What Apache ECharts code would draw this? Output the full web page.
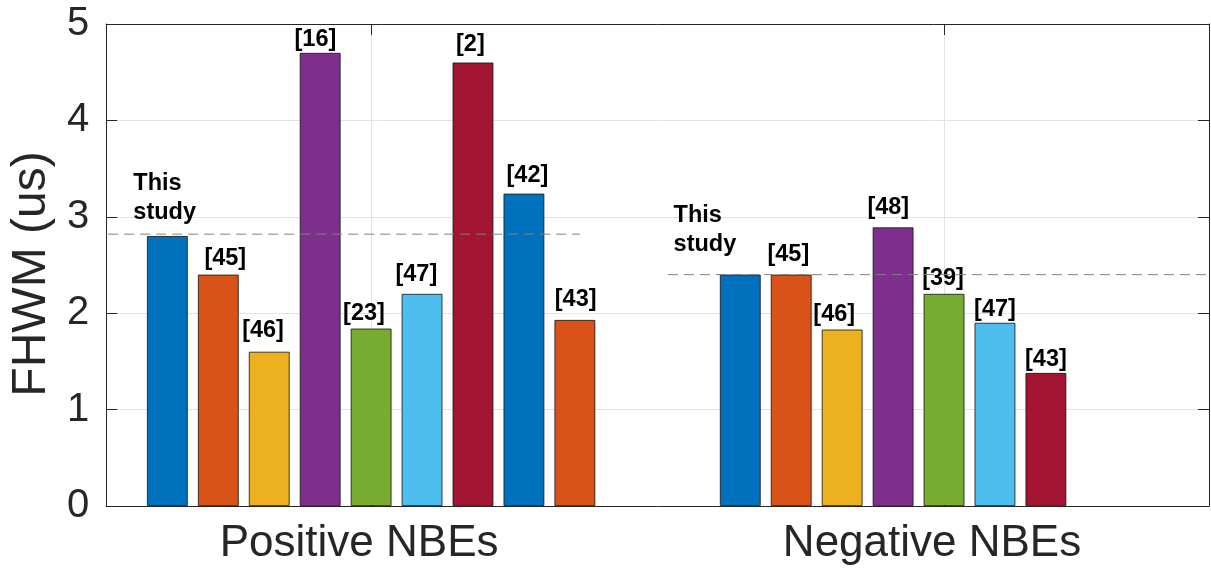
<!DOCTYPE html>
<html>
<head>
<meta charset="utf-8">
<script src="https://cdn.jsdelivr.net/npm/echarts@6/dist/echarts.min.js"></script>
<style>
  html, body { margin: 0; padding: 0; background: #fff; }
  #chart { width: 1211px; height: 571px; }
</style>
</head>
<body>
<div id="chart"></div>
<script>
// Groups on the x axis (placed at x = 1 and x = 2)
const categories = ['Positive NBEs', 'Negative NBEs'];

// FWHM (us) per study, one entry per bar slot inside each group
const positiveFwhm = [2.8, 2.4, 1.6, 4.7, 1.84, 2.2, 4.6, 3.24, 1.93];
const negativeFwhm = [2.4, 2.4, 1.83, 2.89, 2.2, 1.9, 1.38, null, null];

// Reference tags written above each bar
const positiveRefs = ['This\nstudy', '[45]', '[46]', '[16]', '[23]', '[47]', '[2]', '[42]', '[43]'];
const negativeRefs = ['This\nstudy', '[45]', '[46]', '[48]', '[39]', '[47]', '[43]', '', ''];

// Dashed "this study" reference levels, positive and negative
const studyLevels = [2.82, 2.4];

// Y tick values
const yTicks = [0, 1, 2, 3, 4, 5];

// ---- layout / styling ----
const X_MIN = 0.5375, X_MAX = 2.4625;
const studySpans = [[0.4572, 1.3647], [1.5183, 2.4625]];
const barColors = ['#0072BD', '#D95319', '#EDB120', '#7E2F8E', '#77AC30',
                   '#4DBEEE', '#A2142F', '#0072BD', '#D95319'];
// label nudges: [dx from bar centre, gap above bar top]
const positiveShift = [[-34, 9], [7, 4.6], [-6.2, 9.6], [-4.8, 2], [-7.1, 3.6],
                       [-5.7, 7.3], [-2.6, 5.9], [3.5, 6.6], [0.8, 8.3]];
const negativeShift = [[-66.7, 16], [-2.9, 8.6], [-7.9, 3.3], [-4.8, 8], [-1, 4],
                       [0, 1.7], [0, 1.6], [0, 0], [0, 0]];

const FONT = 'Liberation Sans, Arial, Helvetica, sans-serif';
const AXIS_COLOR = '#262626';
const GRID_COLOR = '#e3e3e3';

function tagLabel(text, shift) {
  const multi = text.indexOf('\n') >= 0;
  return {
    show: text !== '',
    position: 'top',
    distance: 0,
    offset: [shift[0], -shift[1]],
    formatter: text,
    fontFamily: FONT,
    fontWeight: 'bold',
    fontSize: 23.5,
    lineHeight: multi ? 29 : 23.5,
    align: multi ? 'left' : 'center',
    color: '#000'
  };
}

const barSeries = positiveFwhm.map((pv, i) => {
  const nv = negativeFwhm[i];
  return {
    type: 'bar',
    barWidth: 40.75,
    barGap: '25%',
    z: 2,
    itemStyle: { color: barColors[i], borderColor: '#111', borderWidth: 0.8 },
    data: [
      { value: [1, pv], label: tagLabel(positiveRefs[i], positiveShift[i]) },
      nv == null ? null : { value: [2, nv], label: tagLabel(negativeRefs[i], negativeShift[i]) }
    ]
  };
});

const lineSeries = studyLevels.map((lv, k) => ({
  type: 'line',
  clip: false,
  z: 5,
  symbol: 'none',
  silent: true,
  lineStyle: { color: '#808080', width: 1, type: [10, 6] },
  data: [[studySpans[k][0], lv], [studySpans[k][1], lv]]
}));

const chart = echarts.init(document.getElementById('chart'), null, { renderer: 'canvas' });
chart.setOption({
  animation: false,
  backgroundColor: '#fff',
  grid: { left: 106, right: 2, top: 24, bottom: 65, containLabel: false },
  xAxis: [
    {
      type: 'value', min: X_MIN, max: X_MAX, position: 'bottom',
      axisLine: { show: true, onZero: false, lineStyle: { color: AXIS_COLOR, width: 1 } },
      axisTick: { show: true, inside: true, length: 11, customValues: [1, 2], lineStyle: { color: AXIS_COLOR } },
      axisLabel: {
        show: true, customValues: [1, 2], margin: 16,
        padding: [0, 24, 0, 0],
        formatter: v => categories[Math.round(v) - 1] || '',
        fontFamily: FONT, fontSize: 44, color: AXIS_COLOR
      },
      splitLine: { show: true, lineStyle: { color: GRID_COLOR, width: 1 } }
    },
    {
      type: 'value', min: X_MIN, max: X_MAX, position: 'top',
      axisLine: { show: true, onZero: false, lineStyle: { color: AXIS_COLOR, width: 1 } },
      axisTick: { show: true, inside: true, length: 11, customValues: [1, 2], lineStyle: { color: AXIS_COLOR } },
      axisLabel: { show: false },
      splitLine: { show: false }
    }
  ],
  yAxis: [
    {
      type: 'value', min: yTicks[0], max: yTicks[yTicks.length - 1], interval: 1, position: 'left',
      name: 'FHWM (us)', nameLocation: 'middle', nameGap: 45, nameRotate: 90,
      nameTextStyle: { fontFamily: FONT, fontSize: 48, color: AXIS_COLOR, padding: [0, 18, 0, 0] },
      axisLine: { show: true, onZero: false, lineStyle: { color: AXIS_COLOR, width: 1 } },
      axisTick: { show: true, inside: true, length: 11, lineStyle: { color: AXIS_COLOR } },
      axisLabel: { fontFamily: FONT, fontSize: 40, color: AXIS_COLOR, margin: 17 },
      splitLine: { show: true, lineStyle: { color: GRID_COLOR, width: 1 } }
    },
    {
      type: 'value', min: yTicks[0], max: yTicks[yTicks.length - 1], interval: 1, position: 'right',
      axisLine: { show: true, onZero: false, lineStyle: { color: AXIS_COLOR, width: 1 } },
      axisTick: { show: true, inside: true, length: 11, lineStyle: { color: AXIS_COLOR } },
      axisLabel: { show: false },
      splitLine: { show: false }
    }
  ],
  series: barSeries.concat(lineSeries)
});
</script>
</body>
</html>
